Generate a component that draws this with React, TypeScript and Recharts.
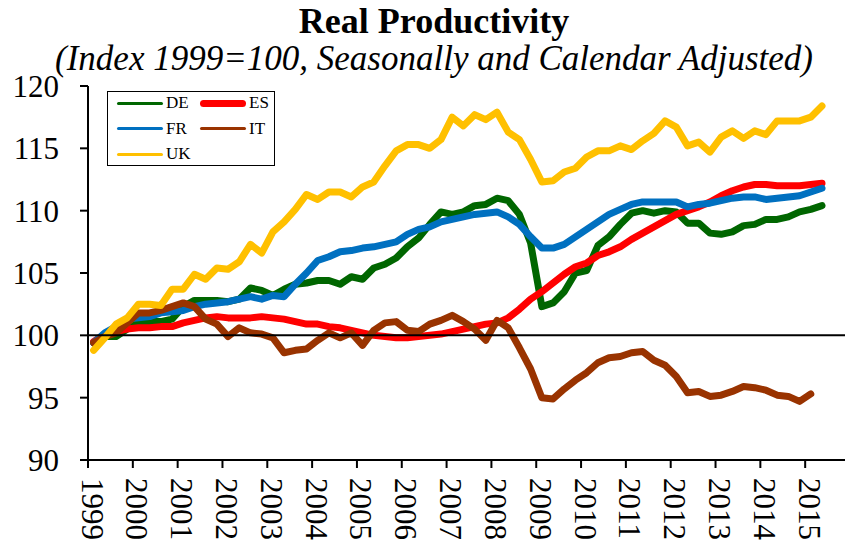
import { LineChart, Line, XAxis, YAxis, ReferenceLine } from "recharts";

// quarterly, 1999Q1 .. 2015Q2
const startYear = 1999;
const yearTicks = [1999, 2000, 2001, 2002, 2003, 2004, 2005, 2006, 2007, 2008, 2009, 2010, 2011, 2012, 2013, 2014, 2015];
const valueTicks = [90, 95, 100, 105, 110, 115, 120];

const DE = [
  99.4, 99.9, 99.9, 100.5, 101.0, 101.1, 101.1, 101.3, 102.3, 102.8,
  102.8, 102.8, 102.7, 102.9, 103.8, 103.6, 103.2, 103.7, 104.1, 104.2,
  104.4, 104.4, 104.1, 104.7, 104.5, 105.4, 105.7, 106.2, 107.1, 107.8,
  108.9, 109.9, 109.7, 109.9, 110.4, 110.5, 111.0, 110.8, 109.7, 107.4,
  102.3, 102.6, 103.5, 105.0, 105.2, 107.2, 107.9, 108.9, 109.8, 110.0,
  109.8, 110.0, 109.9, 109.0, 109.0, 108.2, 108.1, 108.3, 108.8, 108.9,
  109.3, 109.3, 109.5, 109.9, 110.1, 110.4,
];
const ES = [
  99.5, 100.1, 100.3, 100.5, 100.6, 100.6, 100.7, 100.7, 101.0, 101.2,
  101.4, 101.5, 101.4, 101.4, 101.4, 101.5, 101.4, 101.3, 101.1, 100.9,
  100.9, 100.7, 100.6, 100.4, 100.2, 100.0, 99.9, 99.8, 99.8, 99.9,
  100.0, 100.1, 100.3, 100.5, 100.7, 100.9, 101.0, 101.4, 102.1, 102.9,
  103.5, 104.2, 104.9, 105.5, 105.8, 106.4, 106.7, 107.1, 107.7, 108.2,
  108.7, 109.2, 109.7, 110.0, 110.3, 110.7, 111.2, 111.6, 111.9, 112.1,
  112.1, 112.0, 112.0, 112.0, 112.1, 112.2,
];
const FR = [
  99.4, 100.2, 100.7, 101.3, 101.4, 101.5, 101.8, 101.9, 102.0, 102.3,
  102.5, 102.6, 102.7, 102.9, 103.1, 102.9, 103.2, 103.1, 104.1, 105.0,
  106.0, 106.3, 106.7, 106.8, 107.0, 107.1, 107.3, 107.5, 108.1, 108.5,
  108.7, 109.1, 109.3, 109.5, 109.7, 109.8, 109.9, 109.5, 108.9, 107.9,
  107.0, 107.0, 107.3, 107.9, 108.5, 109.1, 109.7, 110.1, 110.5, 110.7,
  110.7, 110.7, 110.7, 110.3, 110.5, 110.6, 110.8, 111.0, 111.1, 111.1,
  110.9, 111.0, 111.1, 111.2, 111.5, 111.8,
];
const IT = [
  99.4, 99.9, 100.2, 101.0, 101.8, 101.8, 102.0, 102.3, 102.6, 102.3,
  101.3, 100.9, 99.9, 100.6, 100.2, 100.1, 99.8, 98.6, 98.8, 98.9,
  99.6, 100.2, 99.8, 100.2, 99.2, 100.4, 101.0, 101.1, 100.4, 100.3,
  100.9, 101.2, 101.6, 101.1, 100.5, 99.6, 101.2, 100.6, 99.0, 97.3,
  95.0, 94.9, 95.7, 96.4, 97.0, 97.8, 98.2, 98.3, 98.6, 98.7,
  98.0, 97.6, 96.7, 95.4, 95.5, 95.1, 95.2, 95.5, 95.9, 95.8,
  95.6, 95.2, 95.1, 94.7, 95.3,
];
const UK = [
  98.8, 99.8, 100.9, 101.4, 102.5, 102.5, 102.4, 103.7, 103.7, 104.9,
  104.5, 105.4, 105.3, 105.9, 107.3, 106.6, 108.3, 109.1, 110.1, 111.3,
  110.9, 111.5, 111.5, 111.1, 111.9, 112.3, 113.6, 114.8, 115.3, 115.3,
  115.0, 115.7, 117.5, 116.8, 117.7, 117.3, 117.9, 116.3, 115.7, 114.1,
  112.3, 112.4, 113.1, 113.4, 114.3, 114.8, 114.8, 115.2, 114.9, 115.6,
  116.2, 117.2, 116.7, 115.2, 115.5, 114.7, 115.9, 116.4, 115.8, 116.4,
  116.1, 117.2, 117.2, 117.2, 117.5, 118.4,
];

const series = [
  { key: "DE", values: DE, color: "#006600", legendWidth: 3 },
  { key: "ES", values: ES, color: "#FF0000", legendWidth: 7 },
  { key: "FR", values: FR, color: "#0070C0", legendWidth: 3 },
  { key: "IT", values: IT, color: "#993300", legendWidth: 3 },
  { key: "UK", values: UK, color: "#FFC000", legendWidth: 3 },
];

const rows = DE.map((_, i) => {
  const row: Record<string, number | null> = { t: startYear + (i + 0.5) / 4 };
  series.forEach((s) => {
    row[s.key] = s.values[i] ?? null;
  });
  return row;
});

const serif = "'Liberation Serif', 'Times New Roman', serif";

function YearTick({ x, y, payload }: any) {
  return (
    <text
      transform={`translate(${x + 4},${y + 8}) rotate(90)`}
      textAnchor="start"
      dominantBaseline="central"
      fontFamily={serif}
      fontSize={31}
      fill="#000"
    >
      {payload.value}
    </text>
  );
}

function LegendBox() {
  return (
    <div
      style={{
        position: "absolute",
        left: 107,
        top: 91,
        width: 168,
        height: 75,
        border: "1.5px solid #000",
        boxSizing: "border-box",
        background: "#fff",
        fontFamily: serif,
        fontSize: 17,
      }}
    >
      {series.map((s, i) => {
        const col = i % 2;
        const row = Math.floor(i / 2);
        return (
          <div
            key={s.key}
            style={{
              position: "absolute",
              left: col === 0 ? 9 : 92,
              top: 11 + row * 25.5,
              display: "flex",
              alignItems: "center",
              height: 0,
            }}
          >
            <span
              style={{
                display: "inline-block",
                width: 46,
                height: s.legendWidth,
                borderRadius: s.legendWidth,
                background: s.color,
                marginRight: 3,
              }}
            />
            <span>{s.key}</span>
          </div>
        );
      })}
    </div>
  );
}

export default function App() {
  return (
    <div
      style={{
        position: "fixed",
        left: 0,
        top: 0,
        width: 845,
        height: 543,
        overflow: "hidden",
        background: "#fff",
      }}
    >
      <svg width={845} height={90} style={{ position: "absolute", left: 0, top: 0 }}>
        <text x={434} y={33} textAnchor="middle" fontFamily={serif} fontWeight="bold" fontSize={36} fill="#000">
          Real Productivity
        </text>
        <text x={434} y={70} textAnchor="middle" fontFamily={serif} fontStyle="italic" fontSize={35} fill="#000">
          (Index 1999=100, Seasonally and Calendar Adjusted)
        </text>
      </svg>
      <div style={{ position: "absolute", left: 0, top: 0 }}>
        <LineChart width={850} height={543} data={rows} margin={{ top: 86, right: 0, bottom: 0, left: 0 }}>
          <XAxis
            dataKey="t"
            type="number"
            domain={[1999, 2016]}
            ticks={yearTicks}
            interval={0}
            height={83}
            tickSize={8}
            tickMargin={2}
            tick={<YearTick />}
            axisLine={{ stroke: "#000", strokeWidth: 2 }}
            tickLine={{ stroke: "#000", strokeWidth: 2 }}
            allowDataOverflow
          />
          <YAxis
            domain={[90, 120]}
            ticks={valueTicks}
            interval={0}
            width={88}
            tickSize={8}
            tickMargin={21}
            tick={{ fontSize: 31, fontFamily: serif, fill: "#000" }}
            axisLine={{ stroke: "#000", strokeWidth: 2 }}
            tickLine={{ stroke: "#000", strokeWidth: 2 }}
            allowDataOverflow
          />
          {series.map((s) => (
            <Line
              key={s.key}
              type="linear"
              dataKey={s.key}
              stroke={s.color}
              strokeWidth={7}
              strokeLinejoin="round"
              strokeLinecap="round"
              dot={false}
              isAnimationActive={false}
            />
          ))}
          <ReferenceLine y={100} stroke="#000" strokeWidth={2} />
        </LineChart>
      </div>
      <LegendBox />
    </div>
  );
}
